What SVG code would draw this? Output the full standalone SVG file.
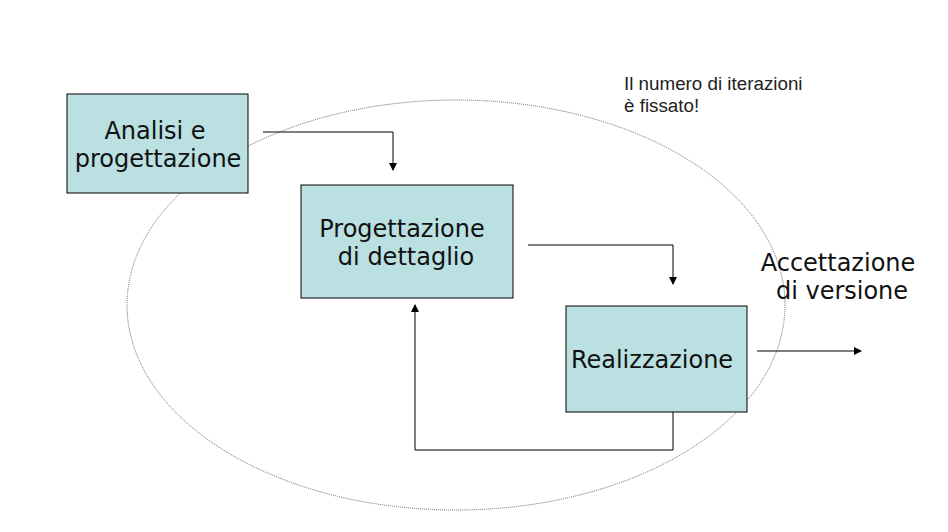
<svg xmlns="http://www.w3.org/2000/svg" width="948" height="532" viewBox="0 0 948 532">
<style>
.box{fill:#bae0e2;stroke:#000;stroke-width:1}
.t{font-family:"DejaVu Sans",sans-serif;font-size:24px;fill:#111}
.n{font-family:"Liberation Sans",Arial,sans-serif;font-size:18.8px;fill:#222}
.c{fill:none;stroke:#000;stroke-width:1}
</style>
<defs>
<marker id="a" markerWidth="8" markerHeight="8" refX="7" refY="4" orient="auto" markerUnits="userSpaceOnUse">
<path d="M0,0 L8,4 L0,8 z" fill="#000"/>
</marker>
</defs>
<rect width="948" height="532" fill="#fff"/>
<ellipse cx="456" cy="305" rx="329" ry="205" fill="none" stroke="#666" stroke-width="1" stroke-dasharray="1,1"/>
<g id="n1"><rect class="box" x="67" y="94" width="181" height="99"/>
<text class="t" x="155" y="139" text-anchor="middle">Analisi e</text>
<text class="t" x="158" y="167" text-anchor="middle">progettazione</text></g>
<g id="n2"><rect class="box" x="301" y="185" width="212" height="113"/>
<text class="t" x="402" y="237" text-anchor="middle">Progettazione</text>
<text class="t" x="406" y="265" text-anchor="middle">di dettaglio</text></g>
<g id="n3"><rect class="box" x="566" y="306" width="181" height="106"/>
<text class="t" x="652" y="368" text-anchor="middle">Realizzazione</text></g>
<g id="n4"><text class="t" x="838" y="271" text-anchor="middle">Accettazione</text>
<text class="t" x="842" y="299" text-anchor="middle">di versione</text></g>
<g id="note"><text class="n" x="624" y="90">Il numero di iterazioni</text>
<text class="n" x="624" y="112">è fissato!</text></g>
<g id="connectors">
<path class="c" d="M263,132 H393 V170" marker-end="url(#a)"/>
<path class="c" d="M528,245 H673 V284" marker-end="url(#a)"/>
<path class="c" d="M673,412 V450 H415 V305" marker-end="url(#a)"/>
<path class="c" d="M757,351 H861" marker-end="url(#a)"/>
</g>
</svg>
